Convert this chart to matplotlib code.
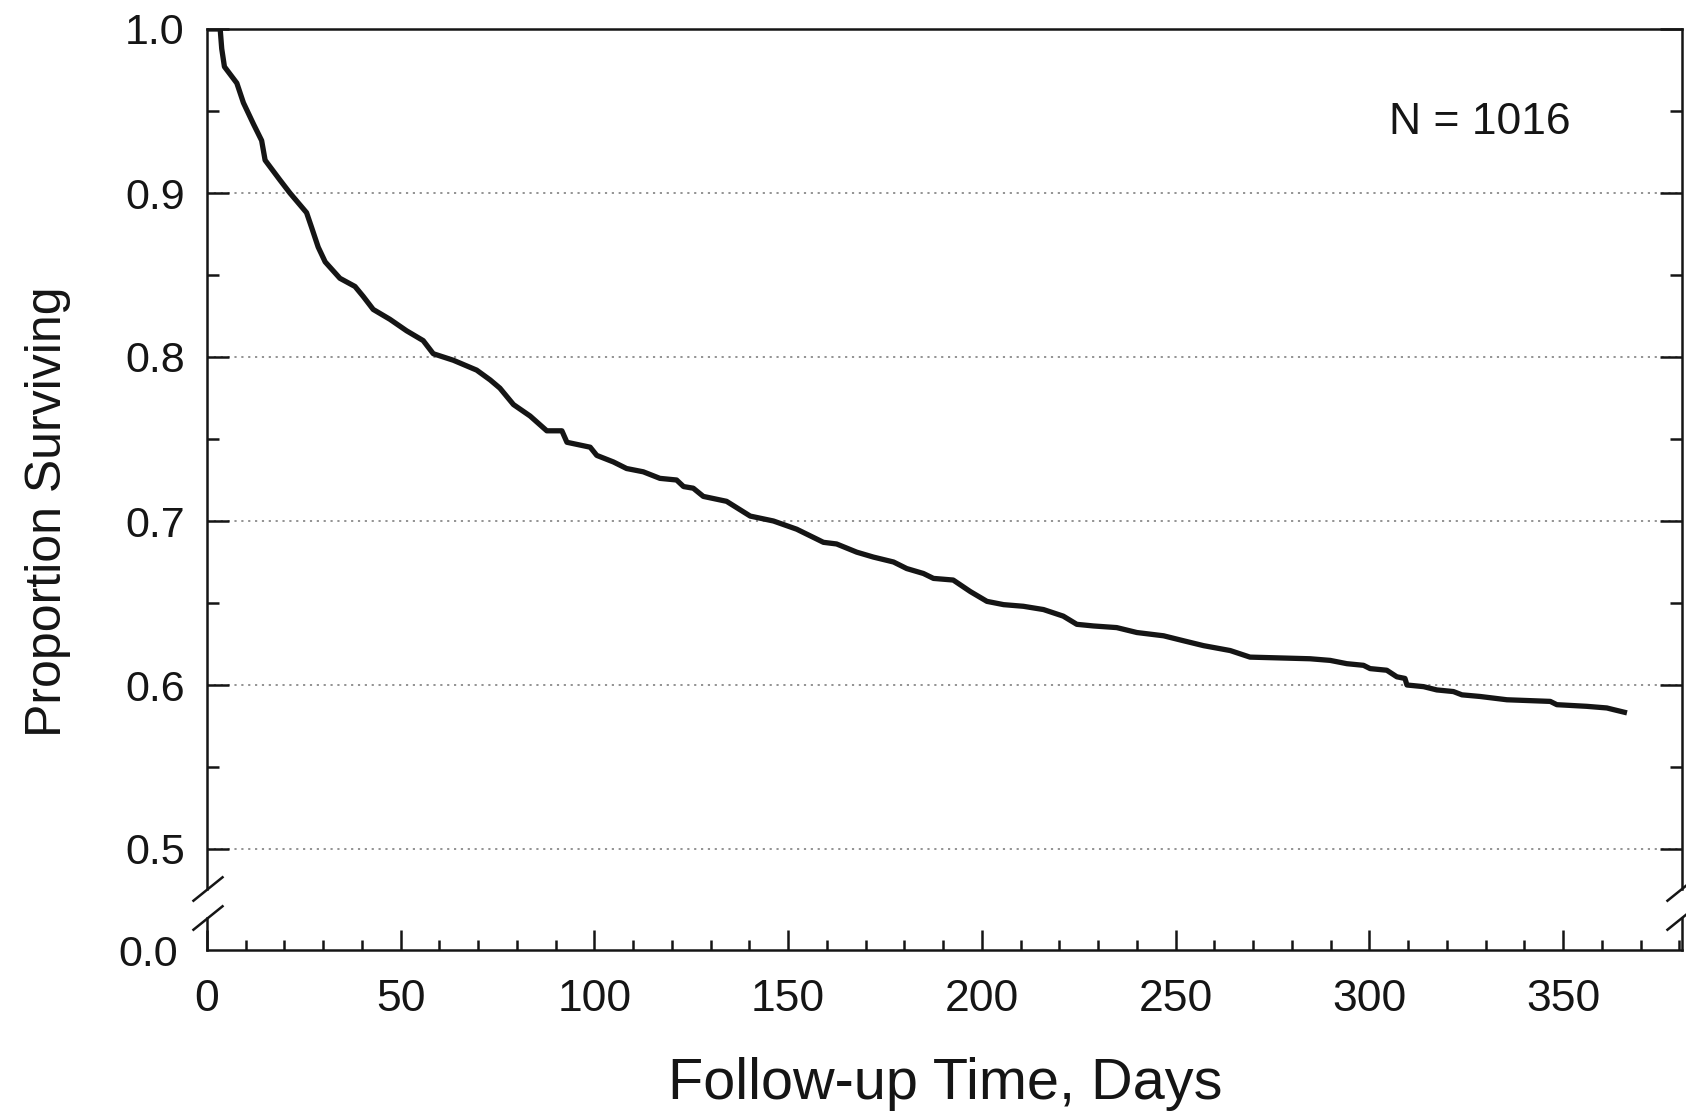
import matplotlib
matplotlib.use('Agg')
import matplotlib.pyplot as plt
from matplotlib.lines import Line2D

plt.rcParams['font.family'] = ['Liberation Sans', 'DejaVu Sans']

# ---- data (Kaplan-Meier estimate) ----
days = [0, 3.4, 3.8, 4.5, 7.7, 9.4, 12.0, 14.1, 15.0, 18.8, 21.4, 25.7, 27.0,
        28.7, 30.5, 34.3, 38.2, 40.3, 42.9, 47.2, 51.5, 55.8, 58.4, 63.6,
        69.6, 73.1, 75.6, 79.1, 83.4, 87.7, 91.6, 92.9, 98.9, 100.6, 104.9,
        108.3, 112.6, 116.9, 121.2, 123.0, 125.5, 128.1, 134.1, 140.2, 146.2,
        152.2, 159.1, 162.5, 167.7, 172.0, 177.2, 180.6, 184.9, 187.5, 192.6,
        197.0, 201.3, 205.6, 210.7, 215.9, 221.0, 224.5, 228.8, 234.8, 240.0,
        246.9, 252.0, 257.2, 264.1, 269.2, 284.7, 289.9, 294.2, 298.5, 300.2,
        304.5, 307.1, 309.2, 309.7, 314.0, 317.4, 321.7, 323.9, 328.6, 335.5,
        346.7, 348.4, 356.1, 361.3, 363.0, 366.5]
surv = [1.000, 1.000, 0.988, 0.977, 0.967, 0.955, 0.942, 0.932, 0.920, 0.908,
        0.900, 0.888, 0.879, 0.867, 0.858, 0.848, 0.843, 0.837, 0.829, 0.823,
        0.816, 0.810, 0.802, 0.798, 0.792, 0.786, 0.781, 0.771, 0.764, 0.755,
        0.755, 0.748, 0.745, 0.740, 0.736, 0.732, 0.730, 0.726, 0.725, 0.721,
        0.720, 0.715, 0.712, 0.703, 0.700, 0.695, 0.687, 0.686, 0.681, 0.678,
        0.675, 0.671, 0.668, 0.665, 0.664, 0.657, 0.651, 0.649, 0.648, 0.646,
        0.642, 0.637, 0.636, 0.635, 0.632, 0.630, 0.627, 0.624, 0.621, 0.617,
        0.616, 0.615, 0.613, 0.612, 0.610, 0.609, 0.605, 0.604, 0.600, 0.599,
        0.597, 0.596, 0.594, 0.593, 0.591, 0.590, 0.588, 0.587, 0.586, 0.585,
        0.583]

y_major = [0.5, 0.6, 0.7, 0.8, 0.9, 1.0]
y_minor = [0.55, 0.65, 0.75, 0.85, 0.95]
x_major = [0, 50, 100, 150, 200, 250, 300, 350]
x_minor = list(range(0, 381, 10))
x_label = 'Follow-up Time, Days'
y_label = 'Proportion Surviving'
annotation = 'N = 1016'

# ---- layout ----
W, H = 1686, 1114
fig = plt.figure(figsize=(W / 100, H / 100), dpi=100)


def fx(px):
    return px / W


def fy(py):
    return 1 - py / H


PX_PER_UNIT = 1640.0
TOP_Y, BREAK_TOP, BREAK_BOT, BASE_Y = 29, 889, 918, 950
LEFT_X, RIGHT_X = 207, 1682
XMAX = 380.7

ax = fig.add_axes([fx(LEFT_X), fy(BREAK_TOP), fx(RIGHT_X) - fx(LEFT_X),
                   fy(TOP_Y) - fy(BREAK_TOP)])
axb = fig.add_axes([fx(LEFT_X), fy(BASE_Y), fx(RIGHT_X) - fx(LEFT_X),
                    fy(BREAK_BOT) - fy(BASE_Y)])

lw_sp = 1.8
ink = '#151515'

# upper panel
ax.plot(days, surv, color=ink, lw=3.8, solid_joinstyle='round',
        solid_capstyle='butt')
ax.set_xlim(0, XMAX)
ax.set_ylim(1.0 - (BREAK_TOP - TOP_Y) / PX_PER_UNIT, 1.0)
ax.set_yticks(y_major)
ax.set_yticks(y_minor, minor=True)
ax.set_yticklabels([f'{v:.1f}' for v in y_major])
ax.tick_params(axis='y', which='major', direction='in', length=16, width=lw_sp,
               left=True, right=True, labelsize=31, pad=16, colors=ink)
ax.tick_params(axis='y', which='minor', direction='in', length=8.5,
               width=lw_sp, left=True, right=True, colors=ink)
ax.tick_params(axis='x', which='both', bottom=False, top=False,
               labelbottom=False)
ax.spines['bottom'].set_visible(False)
for s in ('left', 'right', 'top'):
    ax.spines[s].set_linewidth(lw_sp)
    ax.spines[s].set_color(ink)
ax.grid(axis='y', which='major', color='#8a8a8a', linestyle=(0, (1.2, 2.6)),
        linewidth=1.3)
ax.set_axisbelow(True)
ax.text(328.6, 0.943, annotation, fontsize=32, ha='center', va='center',
        color=ink)
ax.set_ylabel(y_label, fontsize=36, va='center', color=ink)
ax.yaxis.set_label_coords(fx(48), fy(512), transform=fig.transFigure)

# lower panel (0.0 baseline)
axb.set_xlim(0, XMAX)
axb.set_ylim(0, (BASE_Y - BREAK_BOT) / PX_PER_UNIT)
axb.set_xticks(x_major)
axb.set_xticks(x_minor, minor=True)
axb.set_xticklabels([str(v) for v in x_major])
axb.tick_params(axis='x', which='major', direction='in', length=14.5,
                width=lw_sp, labelsize=32, pad=21, colors=ink)
axb.tick_params(axis='x', which='minor', direction='in', length=7,
                width=lw_sp, colors=ink)
axb.set_yticks([0.0])
axb.set_yticklabels(['0.0'])
axb.tick_params(axis='y', which='both', length=0, labelsize=31, pad=21,
                colors=ink)
axb.spines['top'].set_visible(False)
for s in ('left', 'right', 'bottom'):
    axb.spines[s].set_linewidth(lw_sp)
    axb.spines[s].set_color(ink)
axb.set_xlabel(x_label, fontsize=41.5, va='center', color=ink)
axb.xaxis.set_label_coords(fx(945), fy(1084), transform=fig.transFigure)

# axis-break slashes
for cx in (LEFT_X + 1, RIGHT_X):
    for cy in (BREAK_TOP, BREAK_BOT):
        fig.add_artist(Line2D([fx(cx - 15.5), fx(cx + 15.5)],
                              [fy(cy + 12.5), fy(cy - 12.5)],
                              transform=fig.transFigure, color=ink,
                              lw=lw_sp, solid_capstyle='butt'))

fig.savefig('out.png', dpi=100)
